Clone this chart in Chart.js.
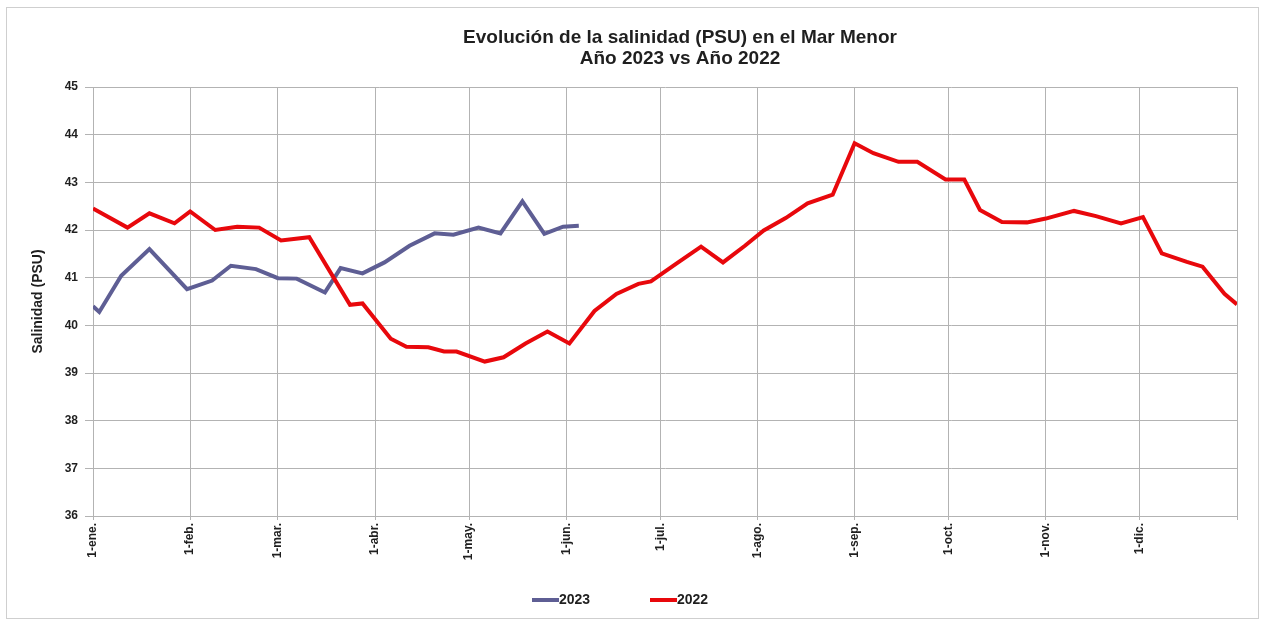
<!DOCTYPE html>
<html lang="es">
<head>
<meta charset="utf-8">
<title>Salinidad Mar Menor</title>
<script src="https://cdn.jsdelivr.net/npm/chart.js@4.4.0/dist/chart.umd.min.js"></script>
<style>
  html, body { margin: 0; padding: 0; background: #fff; }
  #wrap { width: 1267px; height: 621px; }
</style>
</head>
<body>
<div id="wrap"><canvas id="salinityChart" width="1267" height="621"></canvas></div>
<script>
// Day of year (0 = 1-ene) and salinity readings (PSU)
const days2023 = [0, 2, 9, 18, 30, 38, 44, 52, 59, 65, 74, 79, 86, 93, 101, 109, 115, 123, 130, 137, 144, 150, 155];
const psu2023 = [40.40, 40.28, 41.04, 41.60, 40.76, 40.94, 41.25, 41.18, 40.99, 40.98, 40.69, 41.20, 41.09, 41.32, 41.67, 41.93, 41.90, 42.05, 41.93, 42.60, 41.92, 42.07, 42.09];

const days2022 = [0, 11, 18, 26, 31, 39, 46, 53, 60, 69, 82, 86, 95, 100, 107, 112, 116, 125, 131, 138, 145, 152,
  160, 167, 174, 178, 186, 194, 201, 208, 214, 221, 228, 236, 243, 249, 257, 263, 272, 278, 283, 290, 298, 304,
  313, 320, 328, 335, 341, 349, 354, 361, 365];
const psu2022 = [42.45, 42.05, 42.35, 42.14, 42.39, 42.00, 42.07, 42.05, 41.78, 41.85, 40.43, 40.46, 39.72, 39.55, 39.54, 39.45, 39.45, 39.24, 39.33, 39.62, 39.87, 39.62,
  40.30, 40.66, 40.87, 40.92, 41.29, 41.65, 41.32, 41.67, 41.99, 42.25, 42.56, 42.74, 43.82, 43.61, 43.43, 43.43, 43.06, 43.06, 42.42, 42.17, 42.16, 42.24,
  42.40, 42.29, 42.14, 42.27, 41.51, 41.33, 41.23, 40.66, 40.44];

const monthStarts = [0, 31, 59, 90, 120, 151, 181, 212, 243, 273, 304, 334];
const monthLabels = ['1-ene.', '1-feb.', '1-mar.', '1-abr.', '1-may.', '1-jun.', '1-jul.', '1-ago.', '1-sep.', '1-oct.', '1-nov.', '1-dic.'];
const yearEnd = 365;

const titleLines = ['Evolución de la salinidad (PSU) en el Mar Menor', 'Año 2023 vs Año 2022'];

const FONT = '"Liberation Sans", Arial, sans-serif';
const TEXT = '#1f1f1f';
const GRID = '#b3b3b3';

function toPoints(days, values) {
    return days.map((d, i) => ({ x: d, y: values[i] }));
}

// Outer frame, two-line title and the bottom legend
const frameAndTitle = {
    id: 'frameAndTitle',
    beforeDraw(chart) {
        const ctx = chart.ctx;
        ctx.save();
        ctx.fillStyle = '#fff';
        ctx.fillRect(0, 0, chart.width, chart.height);
        ctx.strokeStyle = '#cfcfcf';
        ctx.lineWidth = 1;
        ctx.strokeRect(6.5, 7.5, 1252, 611);
        ctx.restore();
    },
    afterDraw(chart) {
        const ctx = chart.ctx;
        ctx.save();
        ctx.fillStyle = TEXT;
        ctx.font = 'bold 19px ' + FONT;
        ctx.textAlign = 'center';
        ctx.textBaseline = 'middle';
        ctx.fillText(titleLines[0], 680, 38);
        ctx.fillText(titleLines[1], 680, 59);

        // legend: short line sample followed by the series name
        const starts = [532, 650];
        ctx.font = 'bold 14px ' + FONT;
        ctx.textAlign = 'left';
        chart.data.datasets.forEach((ds, i) => {
            const x = starts[i];
            ctx.strokeStyle = ds.borderColor;
            ctx.lineWidth = 4;
            ctx.beginPath();
            ctx.moveTo(x, 600);
            ctx.lineTo(x + 27, 600);
            ctx.stroke();
            ctx.fillText(ds.label, x + 27, 600);
        });
        ctx.restore();
    }
};

const ctx = document.getElementById('salinityChart').getContext('2d');
const salinityChart = new Chart(ctx, {
    type: 'line',
    data: {
        datasets: [
            {
                label: '2023',
                data: toPoints(days2023, psu2023),
                borderColor: 'rgb(94, 94, 148)',
                backgroundColor: 'rgb(94, 94, 148)',
                borderWidth: 4,
                pointRadius: 0,
                tension: 0,
                order: 2
            },
            {
                label: '2022',
                data: toPoints(days2022, psu2022),
                borderColor: 'rgb(232, 8, 12)',
                backgroundColor: 'rgb(232, 8, 12)',
                borderWidth: 4,
                pointRadius: 0,
                tension: 0,
                order: 1
            }
        ]
    },
    options: {
        responsive: false,
        animation: false,
        layout: {
            padding: { left: 0, right: 30, top: 87, bottom: 36 }
        },
        plugins: {
            title: { display: false },
            tooltip: { enabled: false },
            legend: { display: false }
        },
        scales: {
            x: {
                type: 'linear',
                min: 0,
                max: yearEnd,
                afterBuildTicks: function(scale) {
                    scale.ticks = monthStarts.concat([yearEnd]).map(v => ({ value: v }));
                },
                afterFit: function(scale) {
                    scale.height = 69;
                },
                ticks: {
                    autoSkip: false,
                    minRotation: 90,
                    maxRotation: 90,
                    padding: 3,
                    color: TEXT,
                    font: { family: FONT, size: 12, weight: 'bold' },
                    callback: function(value) {
                        const i = monthStarts.indexOf(value);
                        return i >= 0 ? monthLabels[i] : '';
                    }
                },
                grid: {
                    color: GRID,
                    tickLength: 4
                },
                border: { color: GRID }
            },
            y: {
                min: 36,
                max: 45,
                afterFit: function(scale) {
                    scale.width = 93;
                },
                ticks: {
                    stepSize: 1,
                    padding: 7,
                    color: TEXT,
                    font: { family: FONT, size: 12, weight: 'bold' }
                },
                grid: {
                    color: GRID,
                    tickLength: 8
                },
                border: { color: GRID },
                title: {
                    display: true,
                    text: 'Salinidad (PSU)',
                    color: TEXT,
                    font: { family: FONT, size: 14, weight: 'bold' },
                    padding: { top: 30, bottom: 0 }
                }
            }
        }
    },
    plugins: [frameAndTitle]
});
</script>
</body>
</html>
